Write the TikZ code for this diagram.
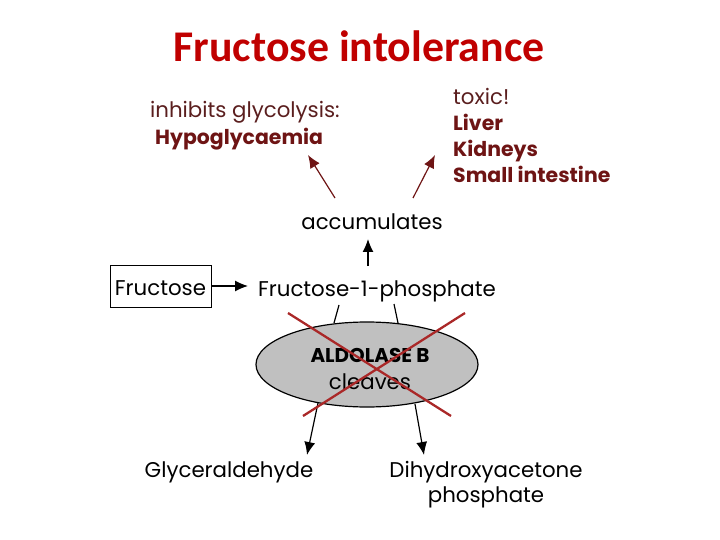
\documentclass[tikz,border=0pt]{standalone}
\usepackage{fontspec}
\setmainfont{Poppins}
\newfontfamily\titlefont{Carlito}
\usetikzlibrary{arrows.meta,shapes.geometric}
\definecolor{titlered}{RGB}{192,0,0}
\definecolor{darkred}{RGB}{110,20,20}
\definecolor{brownred}{RGB}{90,30,30}
\definecolor{xred}{RGB}{170,40,40}
\definecolor{ellgray}{RGB}{192,192,192}
\tikzset{
  lbl/.style={inner sep=0pt, font=\fontsize{21.4}{26}\selectfont},
  redlbl/.style={inner sep=0pt, font=\fontsize{20.5}{26}\selectfont\bfseries, text=darkred, align=left},
  arr/.style={-{Latex[length=13bp,width=11bp]}, line width=1.2pt},
  redarr/.style={-{Latex[length=13bp,width=11bp]}, line width=1.2pt, draw=darkred},
  xline/.style={draw=xred, line width=2.3pt}
}
\begin{document}
\begin{tikzpicture}[x=1bp,y=-1bp]
\useasboundingbox (0,0) rectangle (720,540);
\node[inner sep=0pt, font=\titlefont\fontsize{44}{48}\selectfont\bfseries, text=titlered, anchor=base] (title) at (359,62) {Fructose intolerance};
% top labels
\node[lbl, anchor=base west, text=brownred] (inhib) at (150,118) {inhibits glycolysis:};
\node[redlbl, anchor=base west] (hypo) at (155,145) {Hypoglycaemia};
\node[lbl, anchor=base west, text=brownred] (toxic) at (453,105) {toxic!};
\node[redlbl, anchor=base west] (liver) at (453,131) {Liver};
\node[redlbl, anchor=base west] (kid) at (453,157) {Kidneys};
\node[redlbl, anchor=base west] (small) at (453,183) {Small intestine};
\node[lbl, anchor=base] (acc) at (372,230) {accumulates};
% main row
\node[lbl, draw, line width=0.9pt, minimum width=101bp, minimum height=42bp, text height=19bp, text depth=0bp, anchor=center] (fru) at (160.5,286) {Fructose};
\node[lbl, anchor=base west] (f1p) at (258,296) {Fructose-1-phosphate};
% ellipse
\node[ellipse, draw, line width=1.2pt, fill=ellgray, minimum width=222bp, minimum height=85bp] (ald) at (367,364.5) {};
\node[lbl, font=\fontsize{20}{24}\selectfont\bfseries, anchor=base] (aldt) at (370,362) {ALDOLASE B};
\node[lbl, anchor=base] (clv) at (370,389) {cleaves};
% products
\node[lbl, anchor=base] (gly) at (229,477) {Glyceraldehyde};
\node[lbl, anchor=base] (dhap) at (486,477) {Dihydroxyacetone};
\node[lbl, anchor=base] (phos) at (486,502) {phosphate};
% coordinates
\coordinate (a1s) at (335,198); \coordinate (a1e) at (308,155);
\coordinate (a2s) at (413,198); \coordinate (a2e) at (435,155);
\coordinate (up1) at (368,266); \coordinate (up2) at (368,239);
\coordinate (l1s) at (339,305); \coordinate (l1e) at (334,323);
\coordinate (l2s) at (394,304); \coordinate (l2e) at (398,323);
\coordinate (d1s) at (318,403); \coordinate (d1e) at (307,455);
\coordinate (d2s) at (415,404); \coordinate (d2e) at (424,455);
\coordinate (x1a) at (288,313); \coordinate (x1b) at (451,416);
\coordinate (x2a) at (465,313); \coordinate (x2b) at (303,416);
% connectors
\draw[redarr] (a1s) -- (a1e);
\draw[redarr] (a2s) -- (a2e);
\draw[arr] (up1) -- (up2);
\draw[arr] (fru.east) -- (248,286);
\draw[line width=1.2pt] (l1s) -- (l1e);
\draw[line width=1.2pt] (l2s) -- (l2e);
\draw[arr] (d1s) -- (d1e);
\draw[arr] (d2s) -- (d2e);
\draw[xline] (x1a) -- (x1b);
\draw[xline] (x2a) -- (x2b);
\end{tikzpicture}
\end{document}
